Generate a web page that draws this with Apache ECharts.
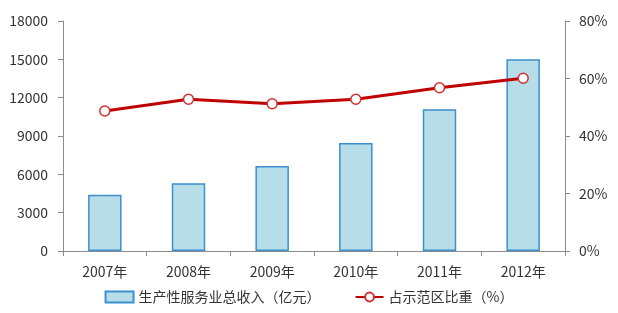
<!DOCTYPE html>
<html><head><meta charset="utf-8">
<script src="https://cdn.jsdelivr.net/npm/echarts@6/dist/echarts.min.js"></script>
<style>html,body{margin:0;padding:0;background:#fff}#c{width:618px;height:313px}</style>
</head><body><div id="c"></div>
<script>
var categories = ['2007年','2008年','2009年','2010年','2011年','2012年'];
var revenue = [4400, 5300, 6650, 8450, 11100, 15000];
var share = [48.7, 52.8, 51.2, 52.8, 56.8, 60.1];
var barName = '生产性服务业总收入（亿元）';
var lineName = '占示范区比重（%）';

var font = '"Noto Sans CJK SC", "Noto Sans", sans-serif';
var chart = echarts.init(document.getElementById('c'));
var axisLine = {show: true, lineStyle: {color: '#8c8c8c', width: 1}};
chart.setOption({
  animation: false,
  textStyle: {fontFamily: font},
  grid: {left: 63, right: 53, top: 21, bottom: 62},
  legend: {
    bottom: 4, left: 'center', itemGap: 34, itemWidth: 28, itemHeight: 11,
    textStyle: {fontSize: 14, color: '#333', fontFamily: font},
    data: [{name: barName, icon: 'rect'}, {name: lineName}]
  },
  xAxis: {
    type: 'category', data: categories,
    axisLine: axisLine,
    axisTick: {show: true, length: 5, lineStyle: {color: '#8c8c8c'}},
    axisLabel: {fontSize: 14, color: '#333', margin: 14}
  },
  yAxis: [{
    type: 'value', min: 0, max: 18000, interval: 3000,
    axisLine: axisLine,
    axisTick: {show: true, length: 5, lineStyle: {color: '#8c8c8c'}},
    splitLine: {show: false},
    axisLabel: {fontSize: 14, color: '#333', margin: 15, formatter: function (v) { return String(v); }}
  }, {
    type: 'value', min: 0, max: 80, interval: 20,
    axisLine: axisLine,
    axisTick: {show: true, length: 5, lineStyle: {color: '#8c8c8c'}},
    splitLine: {show: false},
    axisLabel: {fontSize: 14, color: '#333', margin: 14, formatter: '{value}%'}
  }],
  series: [{
    name: barName, type: 'bar', data: revenue, barWidth: '40%',
    itemStyle: {color: '#b7dde8', borderColor: '#3c8fd0', borderWidth: 1.5}
  }, {
    name: lineName, type: 'line', yAxisIndex: 1, data: share,
    symbol: 'circle', symbolSize: 10,
    lineStyle: {color: '#c00000', width: 3},
    itemStyle: {color: '#fff', borderColor: '#d23030', borderWidth: 1.5}
  }]
});
</script></body></html>
